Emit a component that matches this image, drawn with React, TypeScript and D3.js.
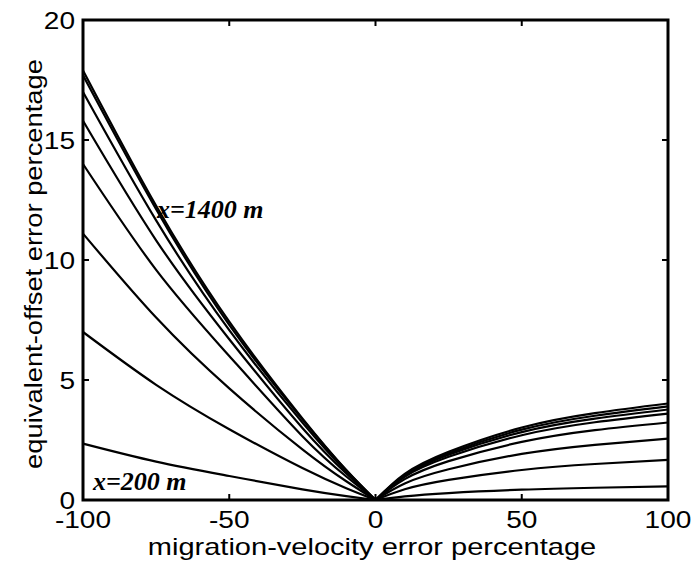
import React from "react";
import * as d3 from "d3";

// x-axis: migration-velocity error percentage
const VELOCITY_ERROR = [-100, -75, -50, -25, -10, 0, 10, 25, 50, 75, 100];

// equivalent-offset error percentage, one array per offset curve (x = 200 m ... top curve)
const CURVE_1 = [2.35, 1.6, 1.0, 0.44, 0.16, 0, 0.15, 0.29, 0.43, 0.51, 0.57];
const CURVE_2 = [7.0, 4.8, 2.95, 1.33, 0.49, 0, 0.45, 0.84, 1.25, 1.5, 1.67];
const CURVE_3 = [11.1, 7.6, 4.65, 2.11, 0.78, 0, 0.69, 1.28, 1.92, 2.3, 2.56];
const CURVE_4 = [14.0, 9.59, 6.0, 2.66, 0.98, 0, 0.87, 1.62, 2.42, 2.91, 3.23];
const CURVE_5 = [15.8, 10.82, 6.7, 3.0, 1.11, 0, 0.97, 1.8, 2.7, 3.24, 3.6];
const CURVE_6 = [17.0, 11.65, 7.08, 3.23, 1.19, 0, 1.02, 1.89, 2.83, 3.39, 3.77];
const CURVE_7 = [17.7, 12.12, 7.3, 3.36, 1.24, 0, 1.05, 1.95, 2.93, 3.51, 3.9];
const CURVE_8 = [17.9, 12.26, 7.43, 3.4, 1.25, 0, 1.09, 2.01, 3.02, 3.62, 4.02];

const CURVES = [CURVE_1, CURVE_2, CURVE_3, CURVE_4, CURVE_5, CURVE_6, CURVE_7, CURVE_8];

const X_TICKS = [-100, -50, 0, 50, 100];
const Y_TICKS = [0, 5, 10, 15, 20];

const X_TITLE = "migration-velocity error percentage";
const Y_TITLE = "equivalent-offset error percentage";
const LABEL_TOP = "x=1400 m";
const LABEL_BOTTOM = "x=200 m";

const W = 692;
const H = 562;
const M = { left: 83, right: 668, top: 20, bottom: 500 };
const SANS = "'Liberation Sans', Arial, sans-serif";
const SERIF = "'Liberation Serif', 'Times New Roman', serif";
const STRETCH = 1.17;

export default function App() {
  const x = d3.scaleLinear().domain([-100, 100]).range([M.left, M.right]);
  const y = d3.scaleLinear().domain([0, 20]).range([M.bottom, M.top]);

  const line = d3
    .line<[number, number]>()
    .x((d) => x(d[0]))
    .y((d) => y(d[1]))
    .curve(d3.curveNatural);

  const paths: string[] = [];
  CURVES.forEach((vals) => {
    const pts: [number, number][] = VELOCITY_ERROR.map((v, i) => [v, vals[i]]);
    const left = pts.filter((p) => p[0] <= 0);
    const right = pts.filter((p) => p[0] >= 0);
    paths.push(line(left) || "");
    paths.push(line(right) || "");
  });

  const tickLen = 6;

  return (
    <svg
      width={W}
      height={H}
      style={{ position: "absolute", left: 0, top: 0, background: "#fff" }}
    >
      <rect x={0} y={0} width={W} height={H} fill="#fff" />
      <g fill="none" stroke="#000" strokeWidth={2.2} strokeLinejoin="round">
        {paths.map((d, i) => (
          <path key={i} d={d} />
        ))}
      </g>

      {/* ticks */}
      <g stroke="#000" strokeWidth={2}>
        {X_TICKS.map((t) => (
          <g key={"xt" + t}>
            <line x1={x(t)} x2={x(t)} y1={M.bottom} y2={M.bottom - tickLen} />
            <line x1={x(t)} x2={x(t)} y1={M.top} y2={M.top + tickLen} />
          </g>
        ))}
        {Y_TICKS.map((t) => (
          <g key={"yt" + t}>
            <line x1={M.left} x2={M.left + tickLen} y1={y(t)} y2={y(t)} />
            <line x1={M.right} x2={M.right - tickLen} y1={y(t)} y2={y(t)} />
          </g>
        ))}
      </g>

      {/* box */}
      <rect
        x={M.left}
        y={M.top}
        width={M.right - M.left}
        height={M.bottom - M.top}
        fill="none"
        stroke="#000"
        strokeWidth={3}
      />

      {/* tick labels */}
      <g fontFamily={SANS} fontSize={24} fill="#000">
        {X_TICKS.map((t) => (
          <text
            key={"xl" + t}
            transform={`translate(${x(t)},${M.bottom + 28}) scale(${STRETCH},1)`}
            textAnchor="middle"
          >
            {t}
          </text>
        ))}
        {Y_TICKS.map((t) => (
          <text
            key={"yl" + t}
            transform={`translate(${M.left - 8},${y(t) + 8.5}) scale(${STRETCH},1)`}
            textAnchor="end"
          >
            {t}
          </text>
        ))}
        <text
          transform={`translate(${372},${555}) scale(1.21,1)`}
          textAnchor="middle"
        >
          {X_TITLE}
        </text>
        <text
          transform={`translate(${42},${264}) rotate(-90) scale(1.14,1)`}
          textAnchor="middle"
        >
          {Y_TITLE}
        </text>
      </g>

      {/* annotations */}
      <g fontFamily={SERIF} fontSize={26} fontWeight="bold" fontStyle="italic" fill="#000">
        <text x={157} y={218}>
          {LABEL_TOP}
        </text>
        <text x={93} y={490}>
          {LABEL_BOTTOM}
        </text>
      </g>
    </svg>
  );
}
